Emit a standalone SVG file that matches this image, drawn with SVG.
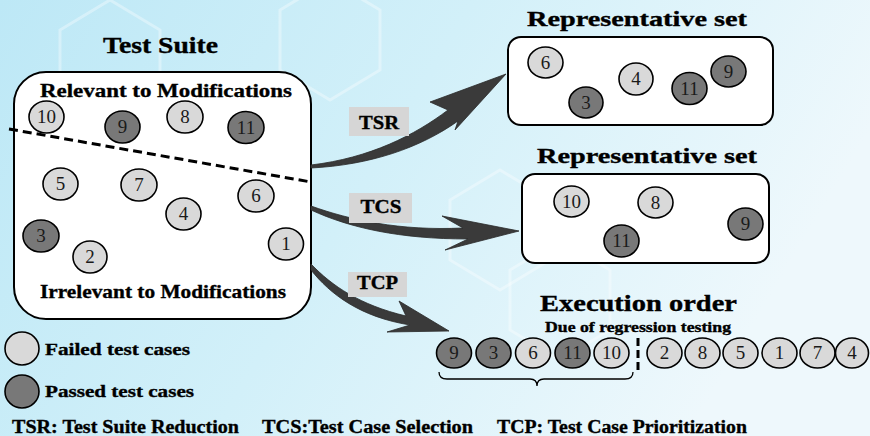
<svg xmlns="http://www.w3.org/2000/svg" width="870" height="436" viewBox="0 0 870 436">
<defs>
<linearGradient id="bg" x1="0" y1="0" x2="1" y2="0.3">
<stop offset="0" stop-color="#bde8f6"/>
<stop offset="0.5" stop-color="#d2f0f9"/>
<stop offset="1" stop-color="#eef8fc"/>
</linearGradient>
<style>
.t{font-family:'Liberation Serif','Times New Roman',serif;font-weight:bold;fill:#000;stroke:#000;stroke-width:0.35}
.n{font-family:'Liberation Serif','Times New Roman',serif;font-size:19px;fill:#1a1a1a;text-anchor:middle}
.lt{fill:#d9d9d9;stroke:#000;stroke-width:1.6}
.dk{fill:#787878;stroke:#000;stroke-width:1.6}
.box{fill:#fff;stroke:#000;stroke-width:2}
.lab{fill:#d6d6d6}
.arr{fill:#3a3a3a;stroke:#2a2a2a;stroke-width:0.8}
.hex{fill:none;stroke:#ffffff;stroke-opacity:0.35;stroke-width:3}
</style>
</defs>
<rect width="870" height="436" fill="url(#bg)"/>
<g id="background-hexagons">
<polygon class="hex" points="110,0 160,30 160,90 110,120 60,90 60,30"/>
<polygon class="hex" points="330,-20 380,10 380,70 330,100 280,70 280,10"/>
<polygon class="hex" points="500,170 550,200 550,260 500,290 450,260 450,200"/>
<polygon class="hex" points="210,190 250,213 250,260 210,283 170,260 170,213"/>
<polygon class="hex" points="560,240 610,270 610,330 560,360 510,330 510,270"/>
</g>

<g id="test-suite">
<text class="t" x="103" y="53" font-size="24" textLength="115" lengthAdjust="spacingAndGlyphs">Test Suite</text>
<rect class="box" x="14" y="72" width="297" height="247" rx="32" ry="32"/>
<text class="t" x="40" y="97" font-size="19" textLength="252" lengthAdjust="spacingAndGlyphs">Relevant to Modifications</text>
<text class="t" x="40" y="298" font-size="19" textLength="246" lengthAdjust="spacingAndGlyphs">Irrelevant to Modifications</text>
<line x1="9" y1="129" x2="311" y2="182" stroke="#000" stroke-width="3" stroke-dasharray="9,5"/>
<g id="ts-10"><ellipse class="lt" cx="46.5" cy="117" rx="17.5" ry="16"/><text class="n" x="46.5" y="123">10</text></g>
<g id="ts-9"><ellipse class="dk" cx="122.5" cy="127" rx="17.5" ry="16"/><text class="n" x="122.5" y="133">9</text></g>
<g id="ts-8"><ellipse class="lt" cx="185" cy="117" rx="18" ry="16"/><text class="n" x="185" y="123">8</text></g>
<g id="ts-11"><ellipse class="dk" cx="246" cy="127.5" rx="18" ry="16"/><text class="n" x="246" y="133.5">11</text></g>
<g id="ts-5"><ellipse class="lt" cx="60.5" cy="184" rx="17.5" ry="16"/><text class="n" x="60.5" y="190">5</text></g>
<g id="ts-7"><ellipse class="lt" cx="139" cy="185" rx="18" ry="16"/><text class="n" x="139" y="191">7</text></g>
<g id="ts-4"><ellipse class="lt" cx="183.5" cy="214" rx="17.5" ry="16"/><text class="n" x="183.5" y="220">4</text></g>
<g id="ts-6"><ellipse class="lt" cx="256" cy="196" rx="18" ry="16"/><text class="n" x="256" y="202">6</text></g>
<g id="ts-3"><ellipse class="dk" cx="41" cy="236" rx="18" ry="16"/><text class="n" x="41" y="242">3</text></g>
<g id="ts-2"><ellipse class="lt" cx="90" cy="257" rx="17" ry="16"/><text class="n" x="90" y="263">2</text></g>
<g id="ts-1"><ellipse class="lt" cx="286" cy="244" rx="17.5" ry="16"/><text class="n" x="286" y="250">1</text></g>
</g>

<g id="connectors">
<path class="arr" d="M311,165 C370,158 415,135 448,110 L430,102 L506,74 L455,130 L458,121 C420,148 370,165 311,168 Z"/>
<path class="arr" d="M311,206 C350,220 400,231 463,228 L442,216 L519,231 L445,250 L468,239 C400,239 350,228 311,210 Z"/>
<path class="arr" d="M311,264 C332,286 360,305 406,316 L399,301 L449,331 L387,332 L410,325 C360,317 330,294 311,270 Z"/>
<g id="label-tsr"><rect class="lab" x="349" y="107" width="60" height="29"/><text class="t" x="379" y="129" font-size="18" text-anchor="middle" textLength="40" lengthAdjust="spacingAndGlyphs">TSR</text></g>
<g id="label-tcs"><rect class="lab" x="349" y="193" width="63" height="30"/><text class="t" x="381" y="213" font-size="18" text-anchor="middle" textLength="41" lengthAdjust="spacingAndGlyphs">TCS</text></g>
<g id="label-tcp"><rect class="lab" x="348" y="272" width="59" height="25"/><text class="t" x="377.5" y="289" font-size="18" text-anchor="middle" textLength="41" lengthAdjust="spacingAndGlyphs">TCP</text></g>
</g>

<g id="representative-set-1">
<text class="t" x="527" y="26" font-size="21" textLength="220" lengthAdjust="spacingAndGlyphs">Representative set</text>
<rect class="box" x="508" y="37" width="265" height="88" rx="13" ry="13"/>
<g id="r1-6"><ellipse class="lt" cx="545.5" cy="62.5" rx="17.5" ry="15.5"/><text class="n" x="545.5" y="68.5">6</text></g>
<g id="r1-3"><ellipse class="dk" cx="586" cy="102.5" rx="17" ry="15.5"/><text class="n" x="586" y="108.5">3</text></g>
<g id="r1-4"><ellipse class="lt" cx="636" cy="79" rx="17" ry="16"/><text class="n" x="636" y="85">4</text></g>
<g id="r1-11"><ellipse class="dk" cx="689.5" cy="88.5" rx="17.5" ry="16"/><text class="n" x="689.5" y="94.5">11</text></g>
<g id="r1-9"><ellipse class="dk" cx="728.5" cy="71.5" rx="17.5" ry="15.5"/><text class="n" x="728.5" y="77.5">9</text></g>
</g>

<g id="representative-set-2">
<text class="t" x="537" y="163" font-size="21" textLength="220" lengthAdjust="spacingAndGlyphs">Representative set</text>
<rect class="box" x="522" y="174" width="247" height="89" rx="13" ry="13"/>
<g id="r2-10"><ellipse class="lt" cx="571.5" cy="201.5" rx="17.5" ry="15.5"/><text class="n" x="571.5" y="207.5">10</text></g>
<g id="r2-8"><ellipse class="lt" cx="655.5" cy="202.5" rx="17.5" ry="15.5"/><text class="n" x="655.5" y="208.5">8</text></g>
<g id="r2-11"><ellipse class="dk" cx="621.5" cy="241" rx="17.5" ry="16"/><text class="n" x="621.5" y="247">11</text></g>
<g id="r2-9"><ellipse class="dk" cx="745.5" cy="224" rx="17.5" ry="16"/><text class="n" x="745.5" y="230">9</text></g>
</g>

<g id="execution-order">
<text class="t" x="540" y="311" font-size="24" textLength="197" lengthAdjust="spacingAndGlyphs">Execution order</text>
<text class="t" x="545" y="332" font-size="14" textLength="186" lengthAdjust="spacingAndGlyphs">Due of regression testing</text>
<g id="e-9"><ellipse class="dk" cx="454" cy="353" rx="17.5" ry="15"/><text class="n" x="454" y="359">9</text></g>
<g id="e-3"><ellipse class="dk" cx="493.5" cy="353" rx="17.5" ry="15"/><text class="n" x="493.5" y="359">3</text></g>
<g id="e-6"><ellipse class="lt" cx="533" cy="353" rx="17.5" ry="15"/><text class="n" x="533" y="359">6</text></g>
<g id="e-11"><ellipse class="dk" cx="572.5" cy="353" rx="17.5" ry="15"/><text class="n" x="572.5" y="359">11</text></g>
<g id="e-10"><ellipse class="lt" cx="611.5" cy="353" rx="17.5" ry="15"/><text class="n" x="611.5" y="359">10</text></g>
<line x1="638" y1="338" x2="638" y2="371" stroke="#000" stroke-width="3" stroke-dasharray="8,4"/>
<g id="e-2"><ellipse class="lt" cx="664.5" cy="353" rx="17.5" ry="15"/><text class="n" x="664.5" y="359">2</text></g>
<g id="e-8"><ellipse class="lt" cx="702.5" cy="353" rx="17.5" ry="15"/><text class="n" x="702.5" y="359">8</text></g>
<g id="e-5"><ellipse class="lt" cx="740.5" cy="353" rx="17.5" ry="15"/><text class="n" x="740.5" y="359">5</text></g>
<g id="e-1"><ellipse class="lt" cx="779.5" cy="353" rx="17.5" ry="15"/><text class="n" x="779.5" y="359">1</text></g>
<g id="e-7"><ellipse class="lt" cx="817.5" cy="353" rx="17.5" ry="15"/><text class="n" x="817.5" y="359">7</text></g>
<g id="e-4"><ellipse class="lt" cx="852" cy="353" rx="16.5" ry="15"/><text class="n" x="852" y="359">4</text></g>
<path d="M439,372 Q439,379 447,379 L530,379 Q537,379 537,386 Q537,379 544,379 L625,379 Q633,379 633,372" fill="none" stroke="#000" stroke-width="1.3"/>
</g>

<g id="legend">
<g id="legend-failed"><ellipse class="lt" cx="22" cy="348.5" rx="17" ry="16.5"/><text class="t" x="45" y="355" font-size="17" textLength="145" lengthAdjust="spacingAndGlyphs">Failed test cases</text></g>
<g id="legend-passed"><ellipse class="dk" cx="22" cy="391.5" rx="17" ry="16.5"/><text class="t" x="45" y="397" font-size="17" textLength="149" lengthAdjust="spacingAndGlyphs">Passed test cases</text></g>
<text class="t" x="12" y="433" font-size="18" textLength="227" lengthAdjust="spacingAndGlyphs">TSR: Test Suite Reduction</text>
<text class="t" x="262" y="433" font-size="18" textLength="211" lengthAdjust="spacingAndGlyphs">TCS:Test Case Selection</text>
<text class="t" x="497" y="433" font-size="18" textLength="250" lengthAdjust="spacingAndGlyphs">TCP: Test Case Prioritization</text>
</g>
</svg>
